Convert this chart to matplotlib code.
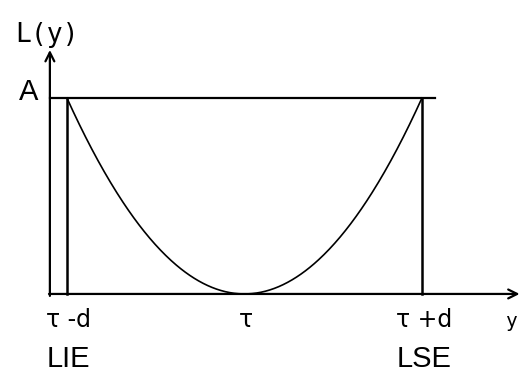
import numpy as np
import matplotlib
matplotlib.use("Agg")
import matplotlib.pyplot as plt

# quadratic loss L(y) = A*((y - tau)/d)^2 between the spec limits
tau = 0.0
d = 1.0
A = 1.0
tick_pos = [tau - d, tau, tau + d]
tick_labels = ["\u03c4 -d", "\u03c4", "\u03c4 +d"]
limit_labels = ["LIE", "LSE"]

y = np.linspace(tau - d, tau + d, 400)
L = A * ((y - tau) / d) ** 2

fig = plt.figure(figsize=(5.21, 3.79), dpi=100)
ax = fig.add_axes([0, 0, 1, 1])
ax.set_xlim(-1.377, 1.558)
ax.set_ylim(-0.434, 1.5)
ax.axis('off')

x0 = -1.096   # where the axes cross
ax.annotate("", xy=(x0, 1.245), xytext=(x0, -0.01),
            arrowprops=dict(arrowstyle='->', lw=1.6, color='black',
                            mutation_scale=16, shrinkA=0, shrinkB=0))
ax.annotate("", xy=(1.55, 0), xytext=(x0 - 0.005, 0),
            arrowprops=dict(arrowstyle='->', lw=1.6, color='black',
                            mutation_scale=16, shrinkA=0, shrinkB=0))

ax.plot([x0, 1.073], [A, A], color='black', lw=1.6)
ax.plot([tau - d, tau - d], [0, A], color='black', lw=1.8)
ax.plot([tau + d, tau + d], [0, A], color='black', lw=1.8)
ax.plot(y, L, color='black', lw=1.2)

ax.text(x0 - 0.195, 1.32, "L(y)", fontsize=19, family='DejaVu Sans Mono',
        ha='left', va='center')
ax.text(x0 - 0.12, A + 0.03, "A", fontsize=21, family='Liberation Sans',
        ha='center', va='center')
for p, t in zip(tick_pos, tick_labels):
    ax.text(p + 0.01, -0.135, t, fontsize=17, ha='center', va='center')
for p, t in zip([tau - d, tau + d], limit_labels):
    ax.text(p + 0.01, -0.33, t, fontsize=21, family='Liberation Sans',
            ha='center', va='center')
ax.text(1.5, -0.14, "y", fontsize=14, family='DejaVu Sans Mono',
        ha='center', va='center')

fig.savefig("out.png", dpi=100)
